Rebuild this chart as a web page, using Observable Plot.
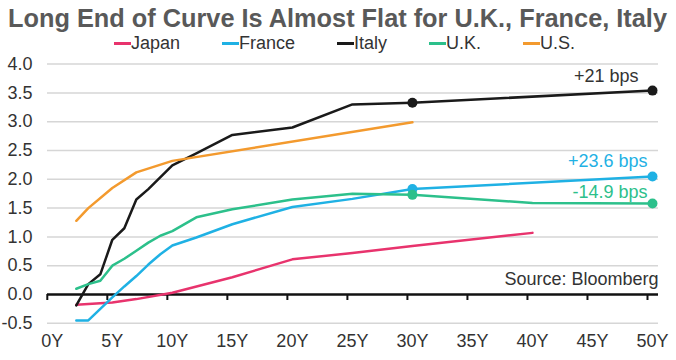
<!DOCTYPE html>
<html><head><meta charset="utf-8">
<script src="https://cdn.jsdelivr.net/npm/d3@7"></script>
<script src="https://cdn.jsdelivr.net/npm/@observablehq/plot@0.6"></script>
<style>
body{margin:0;background:#fff;font-family:"Liberation Sans",Arial,sans-serif;}
#wrap{width:676px;height:360px;overflow:hidden;position:relative;background:#fff}
#title{height:33px;padding-left:8px;padding-top:0;font-size:25px;font-weight:bold;color:#595959;white-space:nowrap;line-height:37px;box-sizing:border-box}
#title span{display:inline-block;transform-origin:0 50%}
#legend{height:21px;display:flex;gap:42px;padding-left:114px;font-size:18px;color:#333;line-height:21px}
.item{display:flex;align-items:center}
.sw{width:17px;height:3px}
</style></head>
<body><div id="wrap"><div id="title"><span id="tspan"></span></div><div id="legend"></div><div id="chart"></div></div>
<script>
const titleText = "Long End of Curve Is Almost Flat for U.K., France, Italy";
const sourceText = "Source: Bloomberg";

const seriesNames = ["Japan", "France", "Italy", "U.K.", "U.S."];
const seriesColors = ["#e8336d", "#1fb1e4", "#1a1a1a", "#2cc08b", "#f39a2e"];

const japanTenors  = [2, 5, 7, 10, 15, 20, 25, 30, 40];
const japanYields  = [-0.18, -0.14, -0.08, 0.03, 0.3, 0.61, 0.72, 0.84, 1.07];
const franceTenors = [2, 3, 4, 5, 6, 7, 8, 9, 10, 12, 15, 20, 25, 30, 50];
const franceYields = [-0.45, -0.45, -0.25, -0.05, 0.14, 0.32, 0.52, 0.7, 0.85, 0.99, 1.22, 1.52, 1.66, 1.83, 2.05];
const italyTenors  = [2, 3, 4, 5, 6, 7, 8, 10, 12, 15, 20, 25, 30, 50];
const italyYields  = [-0.19, 0.18, 0.35, 0.95, 1.15, 1.65, 1.83, 2.24, 2.45, 2.77, 2.9, 3.3, 3.33, 3.54];
const ukTenors     = [2, 3, 4, 5, 6, 7, 8, 9, 10, 12, 15, 20, 25, 30, 40, 50];
const ukYields     = [0.1, 0.18, 0.24, 0.5, 0.62, 0.76, 0.9, 1.02, 1.1, 1.34, 1.48, 1.65, 1.75, 1.73, 1.59, 1.58];
const usTenors     = [2, 3, 5, 7, 10, 30];
const usYields     = [1.28, 1.5, 1.85, 2.12, 2.32, 2.99];

const dottedSeries = ["Italy", "France", "U.K."];
const dottedTenors = [30, 50];
const annotSeries = ["Italy", "France", "U.K."];
const annotTexts  = ["+21 bps", "+23.6 bps", "-14.9 bps"];

const yTicks = [-0.5, 0, 0.5, 1, 1.5, 2, 2.5, 3, 3.5, 4];
const yTickLabels = ["-0.5", "0.0", "0.5", "1.0", "1.5", "2.0", "2.5", "3.0", "3.5", "4.0"];
const xTicks = [0, 5, 10, 15, 20, 25, 30, 35, 40, 45, 50];
const xTickLabels = ["0Y", "5Y", "10Y", "15Y", "20Y", "25Y", "30Y", "35Y", "40Y", "45Y", "50Y"];

const tenorsList = [japanTenors, franceTenors, italyTenors, ukTenors, usTenors];
const yieldsList = [japanYields, franceYields, italyYields, ukYields, usYields];
const rows = seriesNames.flatMap((s, i) => tenorsList[i].map((t, j) => ({series: s, tenor: t, value: yieldsList[i][j]})));

// title
const tspan = document.getElementById("tspan");
tspan.textContent = titleText;

// legend
const legend = document.getElementById("legend");
seriesNames.forEach((s, i) => {
  const it = document.createElement("div"); it.className = "item";
  const sw = document.createElement("div"); sw.className = "sw"; sw.style.background = seriesColors[i];
  const tx = document.createElement("span"); tx.textContent = s;
  it.appendChild(sw); it.appendChild(tx); legend.appendChild(it);
});

const colorOf = s => seriesColors[seriesNames.indexOf(s)];
const dots = rows.filter(d => dottedSeries.includes(d.series) && dottedTenors.includes(d.tenor));
const annotRow = i => rows.filter(d => d.series === annotSeries[i] && d.tenor === 50);
const annotOffsets = [[-14, -14], [-5, -15], [-5, -11]];

const font = "'Liberation Sans', Arial, sans-serif";
const chart = Plot.plot({
  width: 676, height: 306,
  marginLeft: 47, marginRight: 18, marginTop: 9.6, marginBottom: 37.2,
  x: {domain: [-0.4, 50.5], axis: null},
  y: {domain: [-0.5, 4], axis: null},
  color: {domain: seriesNames, range: seriesColors},
  style: {fontFamily: font, fontSize: "18px", color: "#333", background: "#fff", overflow: "visible"},
  marks: [
    Plot.ruleY(yTicks.filter(d => d !== 0), {y: d => d, stroke: "#d6d6d6", strokeWidth: 1.5}),
    Plot.text(yTicks, {y: d => d, text: (d, i) => yTickLabels[i], frameAnchor: "left", textAnchor: "end", dx: -15, fill: "#333", fontSize: 18}),
    Plot.text(xTicks, {x: d => d, text: (d, i) => xTickLabels[i], frameAnchor: "bottom", dy: 24, fill: "#333", fontSize: 18}),
    Plot.text([sourceText], {y: () => 0, text: d => d, frameAnchor: "right", textAnchor: "end", dy: -15, fill: "#333", fontSize: 18}),
    Plot.ruleY([0], {y: d => d, stroke: "#111", strokeWidth: 2.5}),
    Plot.ruleX(xTicks, {x: d => d, y1: () => 0, y2: () => 0, insetBottom: -6, dx: -5, stroke: "#111", strokeWidth: 2}),
    Plot.line(rows, {x: "tenor", y: "value", z: "series", stroke: "series", strokeWidth: 2.5, strokeLinejoin: "round"}),
    Plot.dot(dots, {x: "tenor", y: "value", fill: d => colorOf(d.series), r: 5}),
    ...annotTexts.map((t, i) => Plot.text(annotRow(i), {x: "tenor", y: "value", text: () => t, textAnchor: "end", dx: annotOffsets[i][0], dy: annotOffsets[i][1], fill: i === 0 ? "#333" : colorOf(annotSeries[i]), fontSize: 18}))
  ]
});
document.getElementById("chart").appendChild(chart);

// fit title width
const w = tspan.getBoundingClientRect().width;
if (w > 0) tspan.style.transform = `scaleX(${659 / w})`;
</script>
</body></html>
